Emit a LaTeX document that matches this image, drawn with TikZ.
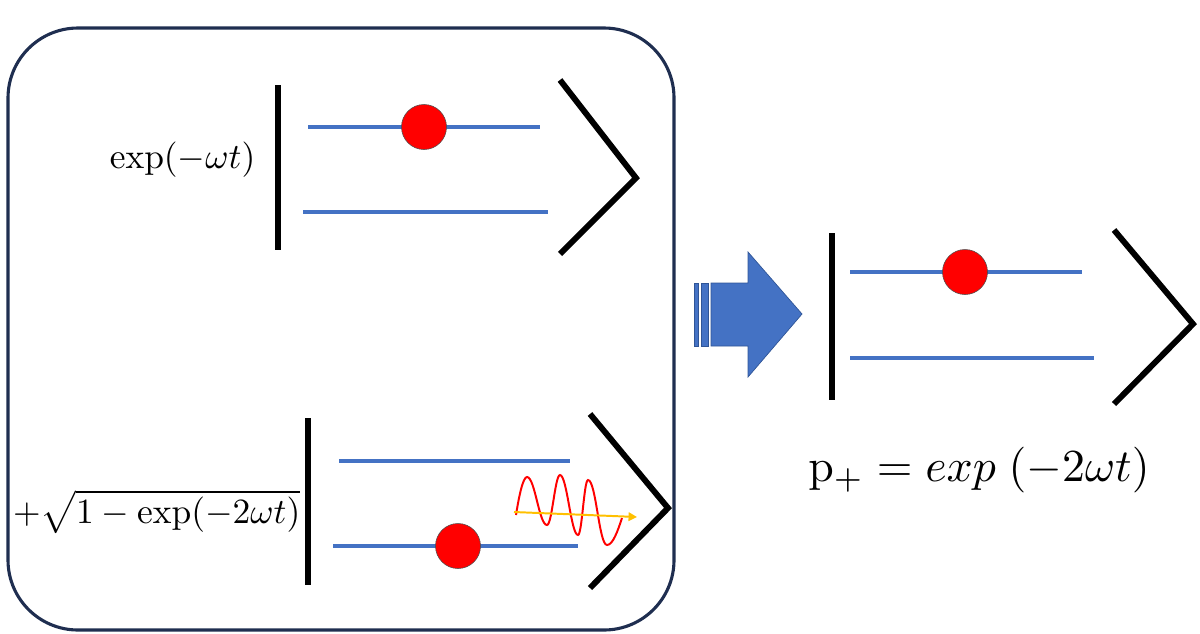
\documentclass[tikz,border=0pt]{standalone}
\usetikzlibrary{arrows.meta}
\definecolor{lvl}{HTML}{4472C4}
\definecolor{frame}{HTML}{1F2E50}
\definecolor{photon}{HTML}{FFC000}
\definecolor{arrowfill}{HTML}{4472C4}
\definecolor{arrowline}{HTML}{2F5597}
\tikzset{
  ketbar/.style={line width=4.2pt, black},
  ketangle/.style={line width=4.2pt, black, line join=miter},
  level/.style={line width=2.4pt, lvl},
  particle/.style={circle, fill=red, draw=black!70, line width=0.4pt, minimum size=32pt, inner sep=0pt},
  lbl/.style={inner sep=0pt, scale=2.52, transform shape},
  biglbl/.style={inner sep=0pt, scale=3.26, transform shape},
  blockarrow/.style={fill=arrowfill, draw=arrowline, line width=0.5pt},
}
\begin{document}
\begin{tikzpicture}[x=0.025cm, y=-0.025cm]
\useasboundingbox (0,0) rectangle (1200,633);
% frame
\draw[frame, line width=2.2pt, rounded corners=1.75cm] (8,28) rectangle (674,630);
% ---------- top ket
\coordinate (b1t) at (278,85); \coordinate (b1b) at (278,250);
\draw[ketbar] (b1t) -- (b1b);
\coordinate (l1a) at (308,127); \coordinate (l1b) at (540,127);
\coordinate (l2a) at (303,212); \coordinate (l2b) at (548,212);
\draw[level] (l1a) -- (l1b);
\draw[level] (l2a) -- (l2b);
\node[particle] (p1) at (424,127) {};
\coordinate (a1t) at (560,80); \coordinate (a1m) at (636,178); \coordinate (a1b) at (560,254);
\draw[ketangle] (a1t) -- (a1m) -- (a1b);
\node[lbl, anchor=east] (t1) at (256,160) {$\exp(-\omega t)$};
% ---------- bottom ket
\coordinate (b2t) at (308,418); \coordinate (b2b) at (308,585);
\draw[ketbar] (b2t) -- (b2b);
\coordinate (l3a) at (339,461); \coordinate (l3b) at (570,461);
\coordinate (l4a) at (333,546); \coordinate (l4b) at (578,546);
\draw[level] (l3a) -- (l3b);
\draw[level] (l4a) -- (l4b);
\node[particle] (p2) at (458,546) {};
\coordinate (a2t) at (590,414); \coordinate (a2m) at (668,508); \coordinate (a2b) at (590,588);
\draw[ketangle] (a2t) -- (a2m) -- (a2b);
\node[lbl, anchor=east] (t2) at (301,512) {$+\sqrt{1-\exp(-2\omega t)}$};
% photon wave
\draw[red, line width=1.4pt]
  (516,515) .. controls (519,496) and (523,477) .. (527,477)
  .. controls (535,477) and (539,525) .. (547,525)
  .. controls (552,525) and (555,475) .. (560,475)
  .. controls (567,475) and (571,535) .. (578,535)
  .. controls (582,535) and (584,480) .. (588,480)
  .. controls (596,480) and (599,545) .. (607,545)
  .. controls (613,545) and (618,530) .. (622,518);
\coordinate (ps) at (514,512); \coordinate (pe) at (637,517);
\draw[photon, line width=1.4pt, -{Triangle[length=6pt,width=6pt]}] (ps) -- (pe);
% ---------- block arrow
\draw[blockarrow] (694,283) rectangle (698,346);
\draw[blockarrow] (701,283) rectangle (708,346);
\draw[blockarrow] (711,283) -- (748,283) -- (748,252) -- (802,314) -- (748,377) -- (748,346) -- (711,346) -- cycle;
% ---------- right ket
\coordinate (b3t) at (832,233); \coordinate (b3b) at (832,400);
\draw[ketbar] (b3t) -- (b3b);
\coordinate (l5a) at (850,272); \coordinate (l5b) at (1082,272);
\coordinate (l6a) at (850,358); \coordinate (l6b) at (1094,358);
\draw[level] (l5a) -- (l5b);
\draw[level] (l6a) -- (l6b);
\node[particle] (p3) at (965,272) {};
\coordinate (a3t) at (1114,230); \coordinate (a3m) at (1193,324); \coordinate (a3b) at (1114,404);
\draw[ketangle] (a3t) -- (a3m) -- (a3b);
\node[biglbl] (t3) at (979,470) {$\mathrm{p}_{+} = exp\;(-2\omega t)$};
\end{tikzpicture}
\end{document}
